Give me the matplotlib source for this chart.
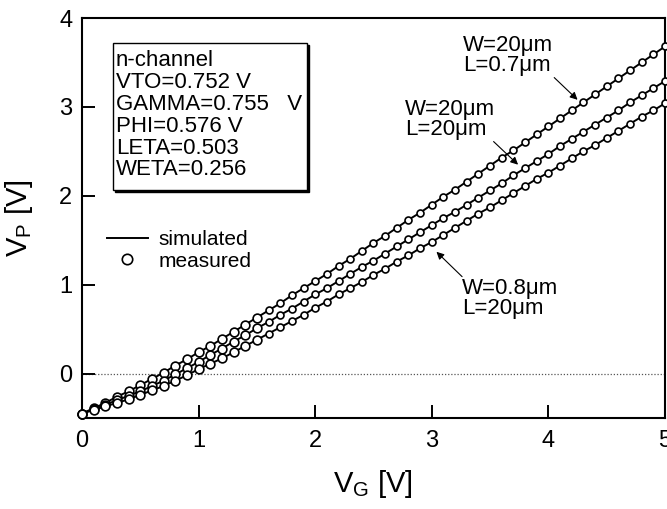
import numpy as np
import matplotlib

matplotlib.use('Agg')
import matplotlib.pyplot as plt
from matplotlib.lines import Line2D
from matplotlib.patches import Rectangle
import matplotlib.transforms as mtransforms

plt.rcParams['font.family'] = ['Liberation Sans', 'DejaVu Sans']
plt.rcParams['mathtext.fontset'] = 'custom'
plt.rcParams['mathtext.rm'] = 'Liberation Sans'
plt.rcParams['mathtext.it'] = 'Liberation Sans'

# gate voltage sweep, 0.1 V steps
vg = [round(0.1 * i, 1) for i in range(51)]

# W=20um, L=0.7um
vp_short = [-0.45, -0.39, -0.33, -0.26, -0.20, -0.13, -0.06, 0.01, 0.09, 0.16,
            0.24, 0.31, 0.39, 0.47, 0.55, 0.63, 0.71, 0.79, 0.88, 0.96,
            1.04, 1.12, 1.21, 1.29, 1.38, 1.47, 1.55, 1.64, 1.73, 1.81,
            1.90, 1.99, 2.07, 2.16, 2.25, 2.34, 2.43, 2.51, 2.60, 2.69,
            2.78, 2.87, 2.96, 3.05, 3.14, 3.23, 3.32, 3.41, 3.50, 3.59, 3.68]

# W=20um, L=20um
vp_wide = [-0.45, -0.40, -0.35, -0.30, -0.25, -0.20, -0.14, -0.08, -0.01, 0.06,
           0.13, 0.21, 0.28, 0.36, 0.43, 0.51, 0.58, 0.66, 0.73, 0.81,
           0.89, 0.96, 1.04, 1.12, 1.20, 1.27, 1.35, 1.43, 1.51, 1.59,
           1.67, 1.75, 1.82, 1.90, 1.98, 2.06, 2.14, 2.23, 2.31, 2.39,
           2.47, 2.56, 2.64, 2.72, 2.80, 2.88, 2.96, 3.05, 3.13, 3.21, 3.29]

# W=0.8um, L=20um
vp_narrow = [-0.45, -0.41, -0.37, -0.33, -0.29, -0.24, -0.19, -0.14, -0.08, -0.02,
             0.05, 0.11, 0.17, 0.24, 0.31, 0.38, 0.45, 0.52, 0.59, 0.66,
             0.74, 0.81, 0.89, 0.96, 1.03, 1.11, 1.18, 1.26, 1.33, 1.41,
             1.48, 1.56, 1.64, 1.72, 1.80, 1.87, 1.95, 2.03, 2.11, 2.19,
             2.26, 2.34, 2.42, 2.50, 2.57, 2.65, 2.73, 2.81, 2.89, 2.96, 3.04]

params = ['n-channel', 'VTO=0.752 V', 'GAMMA=0.755   V', 'PHI=0.576 V',
          'LETA=0.503', 'WETA=0.256']

xticks = [0, 1, 2, 3, 4, 5]
yticks = [0, 1, 2, 3, 4]

fig = plt.figure(figsize=(6.67, 5.09), dpi=100)
ax = fig.add_axes([0.1229, 0.1788, 0.8741, 0.7858])

vg_arr = np.array(vg)
big = vg_arr < 1.55

for series in (vp_short, vp_wide, vp_narrow):
    s = np.array(series)
    ax.plot(vg_arr, s, '-', color='k', lw=1.4, zorder=3, clip_on=False)
    ax.plot(vg_arr[big], s[big], 'o', ms=6.3, mfc='white', mec='k', mew=1.2,
            zorder=4, clip_on=False)
    ax.plot(vg_arr[~big], s[~big], 'o', ms=5.0, mfc='white', mec='k', mew=1.2,
            zorder=4, clip_on=False)

ax.axhline(0, color='#555555', lw=0.9, ls=(0, (1, 1.5)), zorder=1)

ax.set_xlim(0, 5)
ax.set_ylim(-0.5, 4)
ax.set_xticks(xticks)
ax.set_yticks(yticks)
ax.tick_params(direction='in', length=9.5, width=1.4, labelsize=17)
ax.tick_params(axis='x', pad=9)
ax.tick_params(axis='y', pad=7)
for sp in ax.spines.values():
    sp.set_linewidth(1.5)

ax.set_xlabel(r'$\mathregular{V_G}$ [V]', fontsize=21)
ax.set_ylabel(r'$\mathregular{V_P}$ [V]', fontsize=21)
ax.xaxis.set_label_coords(0.5, -0.125)
ax.yaxis.set_label_coords(-0.08, 0.5)

# parameter box with a drop shadow
shadow_off = mtransforms.offset_copy(ax.transAxes, fig=fig, x=2.2, y=-2.2, units='dots')
ax.add_patch(Rectangle((0.0532, 0.57), 0.333, 0.3675, transform=shadow_off,
                       facecolor='k', edgecolor='k', lw=1, zorder=5))
ax.add_patch(Rectangle((0.0532, 0.57), 0.333, 0.3675, transform=ax.transAxes,
                       facecolor='white', edgecolor='k', lw=1, zorder=6))
for i, line in enumerate(params):
    ax.text(0.058, 0.879 - i * 0.0545, line, transform=ax.transAxes,
            fontsize=16, va='baseline', ha='left', zorder=7)

handles = [Line2D([], [], color='k', lw=1.4),
           Line2D([], [], ls='none', marker='o', ms=7.5, mfc='white', mec='k', mew=1.2)]
ax.legend(handles, ['simulated', 'measured'], loc='upper left',
          bbox_to_anchor=(0.043, 0.47), frameon=False, fontsize=15,
          handlelength=1.95, handletextpad=0.5, labelspacing=0.12,
          borderaxespad=0, borderpad=0)

arrow = dict(arrowstyle='-|>', lw=0.8, color='k', mutation_scale=11,
             shrinkA=0, shrinkB=0)
ax.annotate('', xy=(4.25, 3.08), xytext=(4.05, 3.33), arrowprops=arrow)
ax.text(3.27, 3.81, 'W=20μm\nL=0.7μm', fontsize=16, va='top', ha='left',
        linespacing=0.95)
ax.annotate('', xy=(3.74, 2.35), xytext=(3.53, 2.61), arrowprops=arrow)
ax.text(2.77, 3.09, 'W=20μm\nL=20μm', fontsize=16, va='top', ha='left',
        linespacing=0.95)
ax.annotate('', xy=(3.04, 1.37), xytext=(3.26, 1.09), arrowprops=arrow)
ax.text(3.26, 1.08, 'W=0.8μm\nL=20μm', fontsize=16, va='top', ha='left',
        linespacing=0.95)

fig.savefig('out.png', dpi=100)
